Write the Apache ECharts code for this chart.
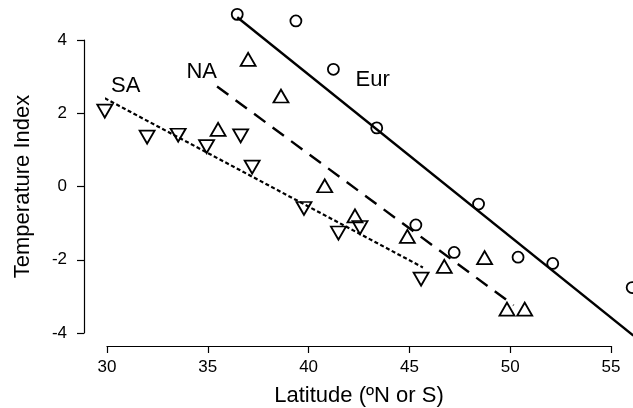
<!DOCTYPE html>
<html>
<head>
<meta charset="utf-8">
<script src="https://cdn.jsdelivr.net/npm/echarts@6/dist/echarts.min.js"></script>
<style>
html, body { margin: 0; padding: 0; background: #fff; }
#chart { width: 633px; height: 408px; }
</style>
</head>
<body>
<div id="chart"></div>
<script>
// Europe (circles)
var eurLat = [36.46, 39.37, 41.23, 43.38, 45.32, 47.22, 48.43, 50.39, 52.11, 56.05];
var eurIdx = [4.70, 4.52, 3.20, 1.60, -1.05, -1.80, -0.48, -1.93, -2.10, -2.76];
// North America (up triangles)
var naLat = [35.51, 37.00, 38.63, 40.80, 42.30, 44.90, 46.73, 48.73, 49.84, 50.72];
var naIdx = [1.56, 3.47, 2.47, 0.02, -0.80, -1.36, -2.18, -1.94, -3.35, -3.35];
// South America (down triangles)
var saLat = [29.89, 31.99, 33.53, 34.94, 36.63, 37.20, 39.77, 41.48, 42.55, 45.58];
var saIdx = [2.06, 1.35, 1.40, 1.09, 1.38, 0.53, -0.60, -1.27, -1.12, -2.53];

// regression lines (end points)
var eurFitLat = [36.46, 56.11];
var eurFitIdx = [4.62, -4.07];
var naFitLat = [35.46, 50.17];
var naFitIdx = [2.73, -3.24];
var saFitLat = [29.89, 45.67];
var saFitIdx = [2.41, -2.21];

// group labels
var groupNames = ['SA', 'NA', 'Eur'];
var labelLat = [30.93, 34.70, 43.18];
var labelIdx = [2.74, 3.14, 2.91];

var xTicks = [30, 35, 40, 45, 50, 55];
var yTicks = [-4, -2, 0, 2, 4];

function pairs(xs, ys) {
	return xs.map(function (x, i) { return [x, ys[i]]; });
}

var font = 'Liberation Sans, Arial, sans-serif';
var chart = echarts.init(document.getElementById('chart'));

// axes grid spans the tick range only (R-style detached axes),
// data grid runs on to the right edge of the picture
var gLeft = 107, gRight = 22, gTop = 40, gBottom = 75;
var xMin = xTicks[0], xMax = xTicks[xTicks.length - 1];
var pxPerUnit = (633 - gLeft - gRight) / (xMax - xMin);
var xDataMax = xMax + gRight / pxPerUnit;

var hollow = { color: 'rgba(0,0,0,0)', borderColor: '#000', borderWidth: 1.8, opacity: 1 };
var black = { color: '#000', width: 1.2 };

chart.setOption({
	animation: false,
	backgroundColor: '#fff',
	grid: [
		{ left: gLeft, right: gRight, top: gTop, bottom: gBottom, outerBoundsMode: 'none', containLabel: false },
		{ left: gLeft, right: 0, top: gTop, bottom: gBottom, outerBoundsMode: 'none', containLabel: false }
	],
	xAxis: [
		{
			gridIndex: 0,
			type: 'value',
			min: xMin,
			max: xMax,
			interval: 5,
			offset: 13,
			splitLine: { show: false },
			axisLine: { onZero: false, lineStyle: black },
			axisTick: { length: 7, lineStyle: black },
			axisLabel: { color: '#000', fontSize: 17, fontFamily: font, margin: 13 },
			name: 'Latitude (ºN or S)',
			nameLocation: 'middle',
			nameGap: 39,
			nameTextStyle: { color: '#000', fontSize: 22, fontFamily: font }
		},
		{
			gridIndex: 1, type: 'value', min: xMin, max: xDataMax, show: false
		}
	],
	yAxis: [
		{
			gridIndex: 0,
			type: 'value',
			min: yTicks[0],
			max: yTicks[yTicks.length - 1],
			interval: 2,
			offset: 23,
			splitLine: { show: false },
			axisLine: { show: true, onZero: false, lineStyle: black },
			axisTick: { show: true, length: 7, lineStyle: black },
			axisLabel: { color: '#000', fontSize: 17, fontFamily: font, margin: 17 },
			name: 'Temperature Index',
			nameLocation: 'middle',
			nameGap: 50,
			nameTextStyle: { color: '#000', fontSize: 22, fontFamily: font }
		},
		{
			gridIndex: 1, type: 'value', min: yTicks[0], max: yTicks[yTicks.length - 1], show: false
		}
	],
	series: [
		{
			type: 'line', xAxisIndex: 1, yAxisIndex: 1, clip: false, symbol: 'none', silent: true,
			data: pairs(eurFitLat, eurFitIdx),
			lineStyle: { color: '#000', width: 2.4, type: 'solid' }
		},
		{
			type: 'line', xAxisIndex: 1, yAxisIndex: 1, clip: false, symbol: 'none', silent: true,
			data: pairs(naFitLat, naFitIdx),
			lineStyle: { color: '#000', width: 2.4, type: [14, 9] }
		},
		{
			type: 'line', xAxisIndex: 1, yAxisIndex: 1, clip: false, symbol: 'none', silent: true,
			data: pairs(saFitLat, saFitIdx),
			lineStyle: { color: '#000', width: 2.2, type: [4, 2.5] }
		},
		{
			type: 'scatter', xAxisIndex: 1, yAxisIndex: 1, clip: false, symbol: 'circle', symbolSize: 11,
			data: pairs(eurLat, eurIdx), itemStyle: hollow, z: 3
		},
		{
			type: 'scatter', xAxisIndex: 1, yAxisIndex: 1, clip: false, symbol: 'triangle', symbolSize: [15, 13],
			data: pairs(naLat, naIdx), itemStyle: hollow, z: 3
		},
		{
			type: 'scatter', xAxisIndex: 1, yAxisIndex: 1, clip: false, symbol: 'triangle', symbolSize: [15, 13], symbolRotate: 180,
			data: pairs(saLat, saIdx), itemStyle: hollow, z: 3
		},
		{
			type: 'scatter', xAxisIndex: 1, yAxisIndex: 1, clip: false, symbolSize: 0, silent: true,
			itemStyle: { opacity: 1 },
			data: labelLat.map(function (x, i) {
				return { value: [x, labelIdx[i]], name: groupNames[i] };
			}),
			label: {
				show: true, position: 'inside', formatter: '{b}',
				color: '#000', fontSize: 22, fontFamily: font,
				textBorderWidth: 0
			}
		}
	]
});
</script>
</body>
</html>
